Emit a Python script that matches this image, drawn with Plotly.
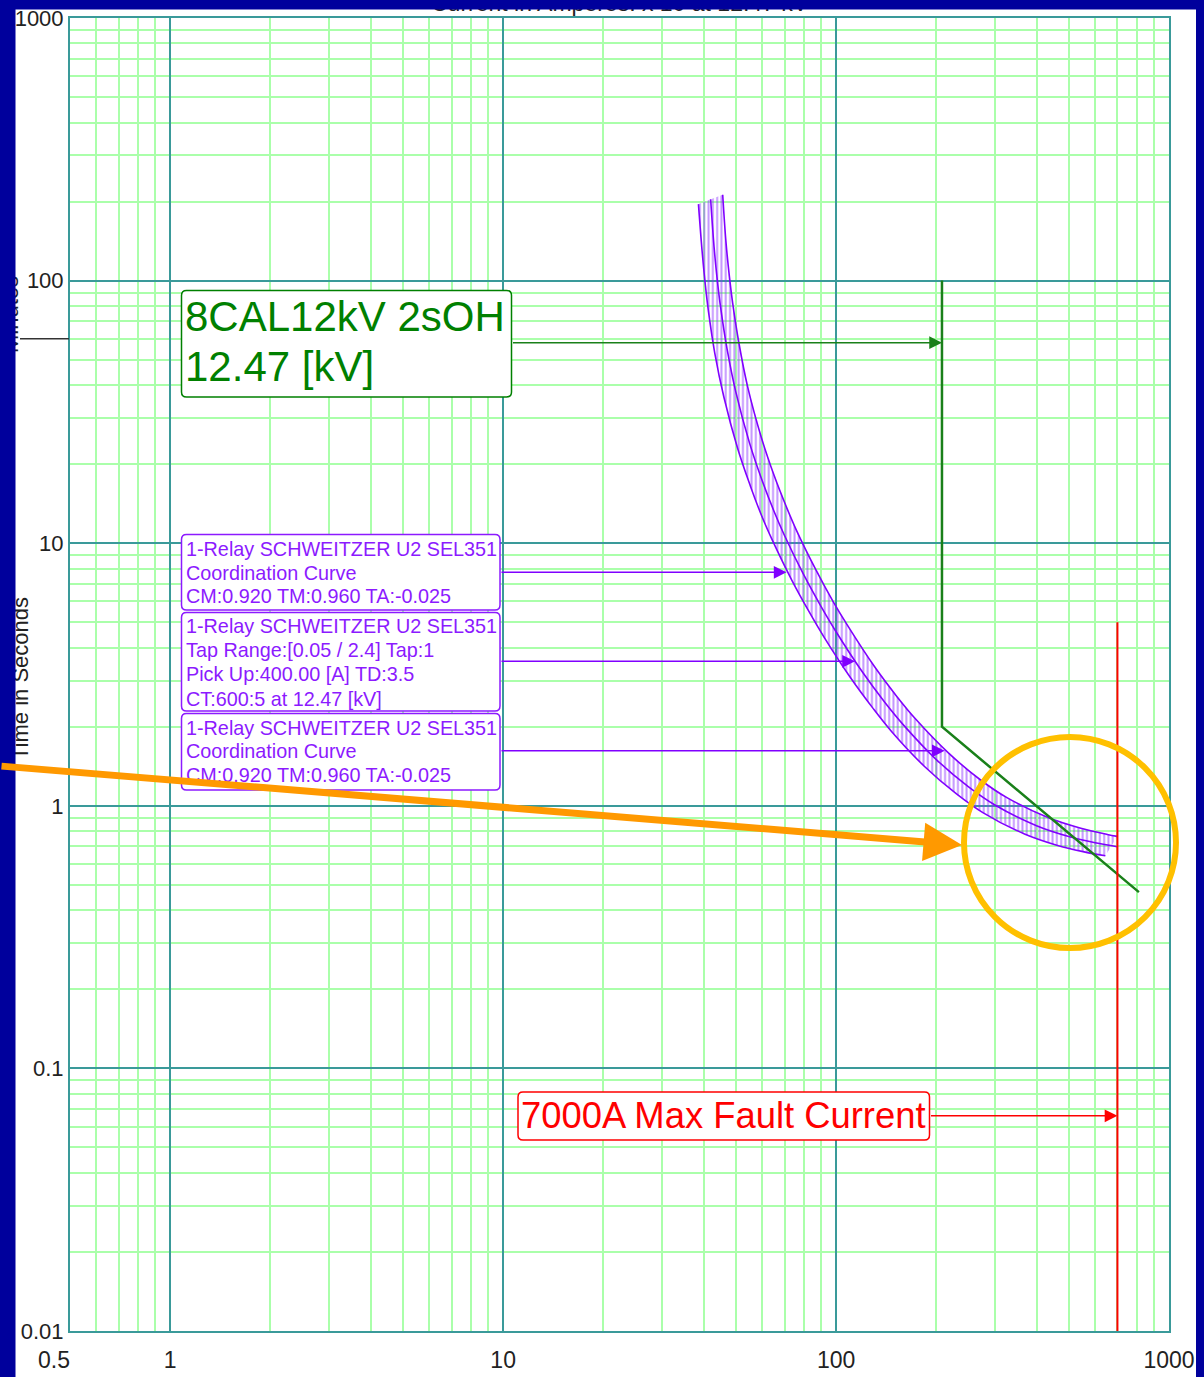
import numpy as np
import plotly.graph_objects as go

# ---------------- data (current in A x10 at 12.47 kV, time in s) ----------------
# SEL351 U2 relay, main curve
relay_current = [42.0, 43, 44, 45, 47, 50, 55, 60, 65, 70, 80, 90, 100, 120, 140,
                 160, 200, 250, 300, 400, 500, 600, 700]
relay_time = [204, 134.5, 99.8, 79.0, 55.3, 37.6, 24.0, 17.3, 13.3, 10.7, 7.57, 5.76,
              4.60, 3.23, 2.48, 2.02, 1.50, 1.18, 1.007, 0.840, 0.764, 0.723, 0.698]

# coordination band, lower (fast) edge
lower_current = [38.6, 39.6, 40.5, 41.4, 43.2, 46.0, 50.6, 55.2, 59.8, 64.4, 73.6, 82.8,
                 92.0, 110.4, 128.8, 147.2, 184, 230, 276, 368, 460, 552, 644]
lower_time = [195.6, 129.1, 95.8, 75.8, 53.1, 36.1, 23.0, 16.6, 12.7, 10.25, 7.24, 5.51,
              4.39, 3.08, 2.36, 1.91, 1.415, 1.11, 0.942, 0.781, 0.708, 0.669, 0.645]

# coordination band, upper (slow) edge
upper_current = [45.65, 46.7, 47.8, 48.9, 51.1, 54.3, 59.8, 65.2, 70.7, 76.1, 87.0, 97.8,
                 108.7, 130.4, 152.2, 173.9, 217.4, 271.7, 326, 434.8, 543.5, 652.2, 700]
upper_time = [212.3, 140.1, 104.0, 82.3, 57.6, 39.2, 25.0, 18.05, 13.88, 11.17, 7.91, 6.02,
              4.82, 3.39, 2.61, 2.13, 1.59, 1.254, 1.074, 0.900, 0.821, 0.778, 0.765]

# 8CAL 12 kV 2 s overhead curve
cal_current = [208, 208, 812]
cal_time = [100, 2.0, 0.469]

# 7000 A maximum fault current marker
fault_current = [700, 700]
fault_time = [5.0, 0.01]

# label arrow targets
cal_arrow = (208, 58)
coord1_arrow = (71, 7.75)
relay_arrow = (114, 3.55)
coord2_arrow = (212, 1.62)
fault_arrow = (700, 0.066)

x_tickvals = [0.5, 1, 10, 100, 1000]
x_ticktext = ["0.5" + "\u00a0" * 5, "1", "10", "100", "1000"]
y_tickvals = [0.01, 0.1, 1, 10, 100, 1000]
y_ticktext = ["0.01", "0.1", "1", "10", "100", "1000"]

cal_label = ["8CAL12kV 2sOH", "12.47 [kV]"]
coord_label = ["1-Relay SCHWEITZER U2 SEL351", "Coordination Curve",
               "CM:0.920 TM:0.960 TA:-0.025"]
relay_label = ["1-Relay SCHWEITZER U2 SEL351", "Tap Range:[0.05 / 2.4] Tap:1",
               "Pick Up:400.00 [A] TD:3.5", "CT:600:5 at 12.47 [kV]"]
fault_label = ["7000A Max Fault Current"]

# ---------------- styling / geometry ----------------
W, H = 1204, 1377
L, R, T, B = 70, 35, 18, 46
PW, PH = W - L - R, H - T - B
XLOG0, XLOG1 = np.log10(0.5), 3.0
FONT = "Liberation Sans, Arial, sans-serif"
NAVY = "#00009c"
TEAL = "#3a9a9a"
MINOR = "#aaffaa"
PURPLE = "#8000ff"
PURPLE_TXT = "#8c1aff"
GREEN = "#1a801a"
GREEN_TXT = "#008000"
RED = "#ff0000"


def px_x(px):
    return (px - L) / PW


def px_y(py):
    return 1 - (py - T) / PH


def xlog_at(px):
    return XLOG0 + (px - L) / PW * (XLOG1 - XLOG0)


def rounded_box(x0, y0, x1, y1, color, r=5, width=1.5):
    X, Y = px_x, px_y
    path = (f"M {X(x0 + r)},{Y(y0)} L {X(x1 - r)},{Y(y0)} Q {X(x1)},{Y(y0)} {X(x1)},{Y(y0 + r)} "
            f"L {X(x1)},{Y(y1 - r)} Q {X(x1)},{Y(y1)} {X(x1 - r)},{Y(y1)} "
            f"L {X(x0 + r)},{Y(y1)} Q {X(x0)},{Y(y1)} {X(x0)},{Y(y1 - r)} "
            f"L {X(x0)},{Y(y0 + r)} Q {X(x0)},{Y(y0)} {X(x0 + r)},{Y(y0)} Z")
    return dict(type="path", xref="paper", yref="paper", path=path, fillcolor="white",
                line=dict(color=color, width=width), layer="above")


def text_lines(lines, x_px, y_centers, color, size):
    return [dict(xref="paper", yref="paper", x=px_x(x_px), y=px_y(yc), xanchor="left",
                 yanchor="middle", text=txt, showarrow=False, borderpad=0,
                 font=dict(family=FONT, size=size, color=color))
            for txt, yc in zip(lines, y_centers)]


def box_arrow(target, box_right_px, color, width=1.5, size=1.7):
    tx, ty = target
    return dict(xref="x", yref="y", x=np.log10(tx), y=np.log10(ty),
                axref="x", ayref="y", ax=xlog_at(box_right_px), ay=np.log10(ty),
                text="", showarrow=True, arrowhead=2, arrowsize=size,
                arrowwidth=width, arrowcolor=color)


fig = go.Figure()

# hatched coordination band
fig.add_trace(go.Scatter(
    x=upper_current + lower_current[::-1], y=upper_time + lower_time[::-1],
    mode="lines", line=dict(width=0), fill="toself", fillcolor="rgba(0,0,0,0)",
    fillpattern=dict(shape="|", size=4.3, solidity=0.45, fgcolor="#8a2bff",
                     bgcolor="rgba(0,0,0,0)"),
    hoverinfo="skip"))

for xs, ys in [(lower_current, lower_time), (relay_current, relay_time),
               (upper_current, upper_time)]:
    fig.add_trace(go.Scatter(x=xs, y=ys, mode="lines", line=dict(color=PURPLE, width=1.6),
                             line_shape="spline", hoverinfo="skip"))

fig.add_trace(go.Scatter(x=cal_current, y=cal_time, mode="lines",
                         line=dict(color=GREEN, width=2.5), hoverinfo="skip"))
fig.add_trace(go.Scatter(x=fault_current, y=fault_time, mode="lines",
                         line=dict(color=RED, width=2), hoverinfo="skip"))

minor_x = [m * 10 ** e for e in (-1, 0, 1, 2) for m in range(2, 10) if 0.5 < m * 10 ** e < 1000]
minor_y = [m * 10 ** e for e in (-2, -1, 0, 1, 2) for m in range(2, 10)]

axis_common = dict(type="log", showline=True, mirror=True, linecolor=TEAL, linewidth=2,
                   showgrid=True, gridcolor=TEAL, gridwidth=1.5, ticks="",
                   automargin=False)

fig.update_layout(
    width=W, height=H, autosize=False,
    margin=dict(l=L, r=R, t=T, b=B, pad=0, autoexpand=False),
    paper_bgcolor="white", plot_bgcolor="white",
    showlegend=False, hovermode=False,
    xaxis=dict(range=[XLOG0, XLOG1], tickmode="array", tickvals=x_tickvals,
               ticktext=x_ticktext, ticklabelstandoff=7,
               tickfont=dict(family=FONT, size=23, color="#222222"),
               minor=dict(tickmode="array", tickvals=minor_x, showgrid=True,
                          gridcolor=MINOR, gridwidth=1.5), **axis_common),
    yaxis=dict(range=[-2, 3], tickmode="array", tickvals=y_tickvals,
               ticktext=y_ticktext, ticklabelstandoff=0,
               tickfont=dict(family=FONT, size=22, color="#222222"),
               minor=dict(tickmode="array", tickvals=minor_y, showgrid=True,
                          gridcolor=MINOR, gridwidth=1.5), **axis_common),
)

shapes = [
    # label boxes
    rounded_box(181.5, 290.5, 511.5, 397, GREEN_TXT),
    rounded_box(181.5, 534.5, 500, 610, PURPLE_TXT),
    rounded_box(181.5, 612.5, 500, 711, PURPLE_TXT),
    rounded_box(181.5, 713.5, 500, 790, PURPLE_TXT),
    rounded_box(518, 1092, 929.5, 1140, RED),
    # one-minute tick on the time axis
    dict(type="line", xref="paper", yref="paper", x0=px_x(20), x1=px_x(69),
         y0=(np.log10(60) + 2) / 5, y1=(np.log10(60) + 2) / 5,
         line=dict(color="#333333", width=1.5)),
    # highlight ring
    dict(type="circle", xref="paper", yref="paper", x0=px_x(964), x1=px_x(1176),
         y0=px_y(948), y1=px_y(737), line=dict(color="#ffc000", width=6), layer="above"),
    # right frame band
    dict(type="rect", xref="paper", yref="paper", x0=px_x(1196), x1=px_x(1210),
         y0=px_y(H + 5), y1=px_y(-5), fillcolor=NAVY, line=dict(width=0), layer="above"),
]

annotations = []
annotations += text_lines(cal_label, 184, [316.5, 366.5], GREEN_TXT, 42)
annotations += text_lines(coord_label, 185, [549, 572.5, 596.5], PURPLE_TXT, 19.8)
annotations += text_lines(relay_label, 185, [626, 650, 673.5, 698.5], PURPLE_TXT, 19.8)
annotations += text_lines(coord_label, 185, [727.5, 751, 775], PURPLE_TXT, 19.8)
annotations += text_lines(fault_label, 520, [1115], RED, 36.4)

annotations += [
    box_arrow(cal_arrow, 511.5, GREEN, width=1.5),
    box_arrow(coord1_arrow, 500, PURPLE),
    box_arrow(relay_arrow, 500, PURPLE),
    box_arrow(coord2_arrow, 500, PURPLE),
    box_arrow(fault_arrow, 929.5, RED),
]

# axis titles (partly tucked under the frame band)
annotations += [
    dict(xref="paper", yref="paper", x=px_x(619.5), y=px_y(3), xanchor="center",
         yanchor="middle", text="Current in Amperes: x 10 at 12.47 kV", showarrow=False,
         font=dict(family=FONT, size=23, color="#222222")),
    dict(xref="paper", yref="paper", x=px_x(20), y=px_y(679), xanchor="center",
         yanchor="middle", text="Time in Seconds", textangle=-90, showarrow=False,
         font=dict(family=FONT, size=22, color="#222222")),
    dict(xref="paper", yref="paper", x=px_x(10), y=px_y(315), xanchor="center",
         yanchor="middle", text="Minutes", textangle=-90, showarrow=False,
         font=dict(family=FONT, size=22, color="#222222")),
]

# frame bands (left and top) drawn over the title text
annotations += [
    dict(xref="paper", yref="paper", x=px_x(-2), y=px_y(-2), xanchor="left", yanchor="top",
         text=" ", showarrow=False, width=16, height=H + 10, bgcolor=NAVY, borderpad=0,
         font=dict(color=NAVY, size=4)),
    dict(xref="paper", yref="paper", x=px_x(-2), y=px_y(-2), xanchor="left", yanchor="top",
         text=" ", showarrow=False, width=W + 10, height=10, bgcolor=NAVY, borderpad=0,
         font=dict(color=NAVY, size=4)),
]

# pointer arrow
annotations.append(
    dict(xref="paper", yref="paper", x=px_x(962), y=px_y(845), axref="pixel", ayref="pixel",
         ax=0 - 962, ay=766 - 845, text="", showarrow=True, arrowhead=2, arrowsize=1.1,
         arrowwidth=7, arrowcolor="#ff9900"))

fig.update_layout(shapes=shapes, annotations=annotations)

fig.write_html("out.html")
